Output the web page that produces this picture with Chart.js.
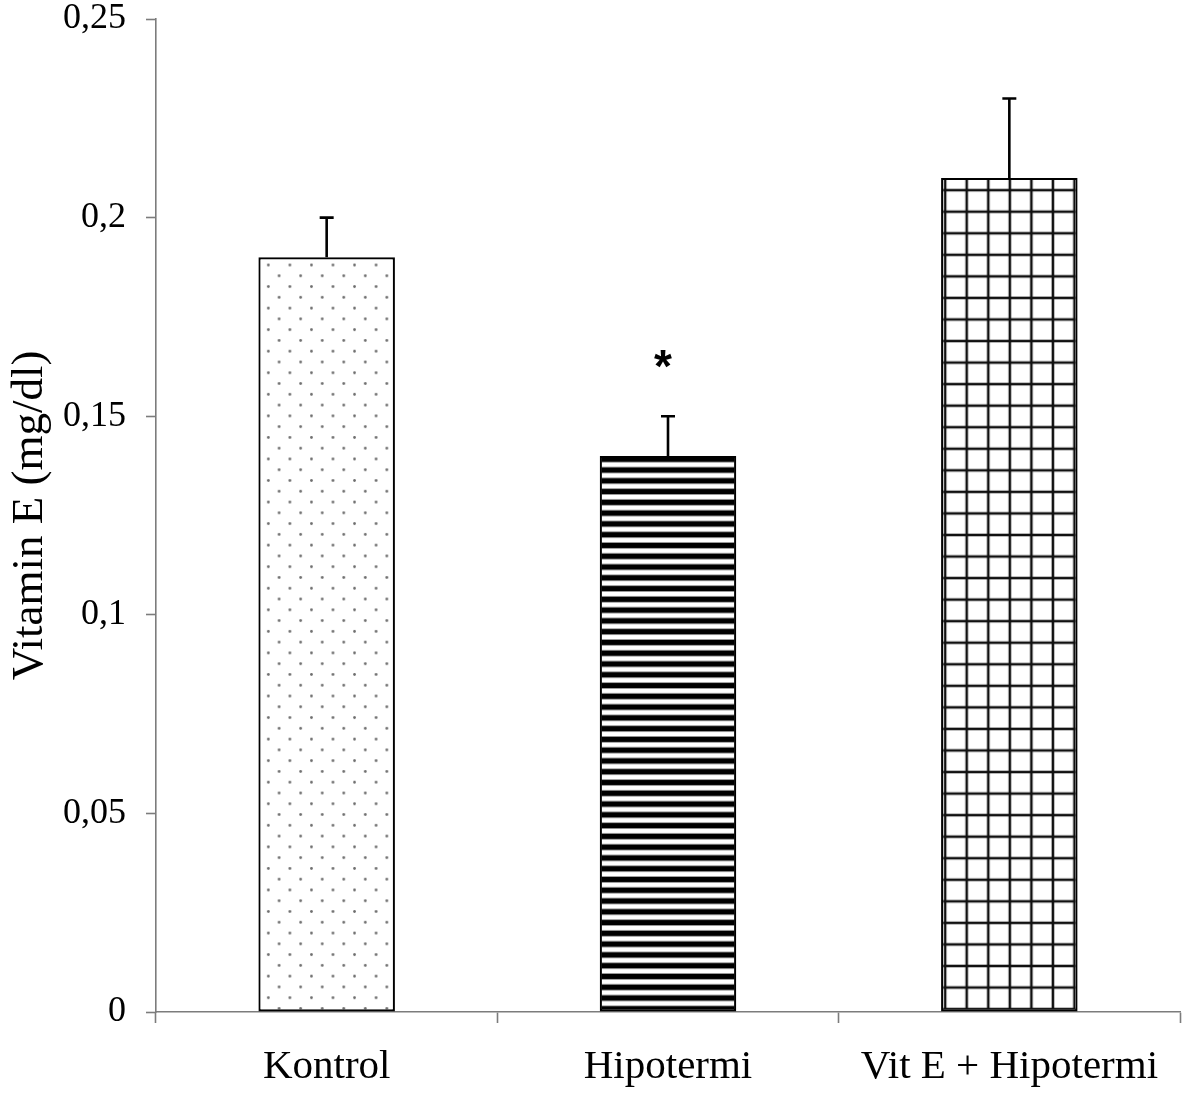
<!DOCTYPE html>
<html>
<head>
<meta charset="utf-8">
<script src="https://cdn.jsdelivr.net/npm/chart.js@4.4.1/dist/chart.umd.min.js"></script>
<style>
  html, body { margin: 0; padding: 0; background: #ffffff; }
  #wrap { width: 1199px; height: 1102px; }
</style>
</head>
<body>
<div id="wrap"><canvas id="c" width="1199" height="1102"></canvas></div>
<script>
// Group means and their error (upper bar only)
const categories = ['Kontrol', 'Hipotermi', 'Vit E + Hipotermi'];
const means = [0.19, 0.14, 0.21];
const errors = [0.01, 0.01, 0.02];
const significant = [false, true, false];

// Y axis
const yMin = 0;
const yMax = 0.25;
const yStep = 0.05;
const yTickLabels = ['0', '0,05', '0,1', '0,15', '0,2', '0,25'];
const yAxisTitle = 'Vitamin E (mg/dl)';

const SERIF = '"Liberation Serif", "Times New Roman", serif';
const AXIS_GREY = '#7c7c7c';
const PERIOD = 21.55; // repeat length of the fill patterns, px

const ctx = document.getElementById('c').getContext('2d');

// Builds a repeating pattern from a small tile; the tile is scaled so one
// repeat is exactly `period` px and shifted so features land at (ox, oy).
function makePattern(period, draw, ox, oy) {
  const T = Math.round(period);
  const tile = document.createElement('canvas');
  tile.width = T; tile.height = T;
  const t = tile.getContext('2d');
  t.fillStyle = '#ffffff';
  t.fillRect(0, 0, T, T);
  draw(t, T);
  const p = ctx.createPattern(tile, 'repeat');
  const s = period / T;
  p.setTransform(new DOMMatrix([s, 0, 0, s, ox, oy]));
  return p;
}

// Sparse staggered dots
const dotFill = makePattern(PERIOD, (t, T) => {
  t.fillStyle = '#6e6e6e';
  [[T / 4, T / 4], [3 * T / 4, 3 * T / 4]].forEach(([x, y]) => {
    t.beginPath(); t.arc(x, y, 1.4, 0, Math.PI * 2); t.fill();
  });
}, 268.3 - PERIOD / 4, 265 - PERIOD / 4);

// Dark horizontal stripes
const stripeFill = makePattern(PERIOD / 2, (t, T) => {
  t.fillStyle = '#000000';
  t.fillRect(0, T / 2 - 2.9, T, 5.8);
}, 0, 470 - PERIOD / 4);

// Square grid
const gridFill = makePattern(PERIOD, (t, T) => {
  t.fillStyle = '#111111';
  t.fillRect(T / 2 - 1.3, 0, 2.6, T);
  t.fillRect(0, T / 2 - 1.3, T, 2.6);
}, 966.7 - PERIOD / 2, 211.7 - PERIOD / 2);

// Upper error bars plus the significance mark
const errorBars = {
  id: 'errorBars',
  afterDatasetsDraw(chart) {
    const meta = chart.getDatasetMeta(0);
    const y = chart.scales.y;
    const c = chart.ctx;
    c.save();
    c.strokeStyle = '#000000';
    c.lineWidth = 2.6;
    c.lineCap = 'butt';
    meta.data.forEach((bar, i) => {
      const x = bar.x;
      const yBase = y.getPixelForValue(means[i]);
      const yTop = y.getPixelForValue(means[i] + errors[i]);
      c.beginPath();
      c.moveTo(x, yBase); c.lineTo(x, yTop);
      c.moveTo(x - 7, yTop); c.lineTo(x + 7, yTop);
      c.stroke();
      if (significant[i]) {
        c.fillStyle = '#000000';
        c.font = 'bold 46px "Liberation Sans", Arial, sans-serif';
        c.textAlign = 'center';
        c.textBaseline = 'alphabetic';
        c.fillText('*', x - 5, yTop - 56 + 22);
      }
    });
    c.restore();
  }
};

new Chart(ctx, {
  type: 'bar',
  data: {
    labels: categories,
    datasets: [{
      data: means,
      backgroundColor: [dotFill, stripeFill, gridFill],
      borderColor: '#000000',
      borderWidth: 2.2,
      borderSkipped: false,
      barPercentage: 0.4,
      categoryPercentage: 1.0
    }]
  },
  options: {
    responsive: false,
    animation: false,
    devicePixelRatio: 1,
    layout: { padding: { top: 19, right: 19, bottom: 0, left: 0 } },
    plugins: {
      legend: { display: false },
      tooltip: { enabled: false }
    },
    scales: {
      x: {
        z: 1,
        offset: true,
        grid: {
          offset: true,
          drawOnChartArea: false,
          drawTicks: true,
          tickLength: 11,
          tickColor: AXIS_GREY,
          tickWidth: 1.6
        },
        border: { display: true, color: AXIS_GREY, width: 1.6 },
        ticks: {
          color: '#000000',
          font: { family: SERIF, size: 41 },
          padding: 20,
          maxRotation: 0,
          autoSkip: false
        },
        afterFit(scale) {
          scale.height = 90;
          scale.paddingLeft = 0;
          scale.paddingRight = 0;
        }
      },
      y: {
        min: yMin,
        max: yMax,
        grid: {
          drawOnChartArea: false,
          drawTicks: true,
          tickLength: 10,
          tickColor: AXIS_GREY,
          tickWidth: 1.6
        },
        border: { display: true, color: AXIS_GREY, width: 1.6 },
        ticks: {
          stepSize: yStep,
          color: '#000000',
          font: { family: SERIF, size: 36 },
          padding: 20,
          callback: (value, index) => yTickLabels[index]
        },
        title: {
          display: true,
          text: yAxisTitle,
          color: '#000000',
          font: { family: SERIF, size: 45 },
          padding: { top: 3, bottom: 0 }
        },
        afterFit(scale) {
          scale.width = 156;
          scale.paddingTop = 0;
          scale.paddingBottom = 0;
        }
      }
    }
  },
  plugins: [errorBars]
});
</script>
</body>
</html>
